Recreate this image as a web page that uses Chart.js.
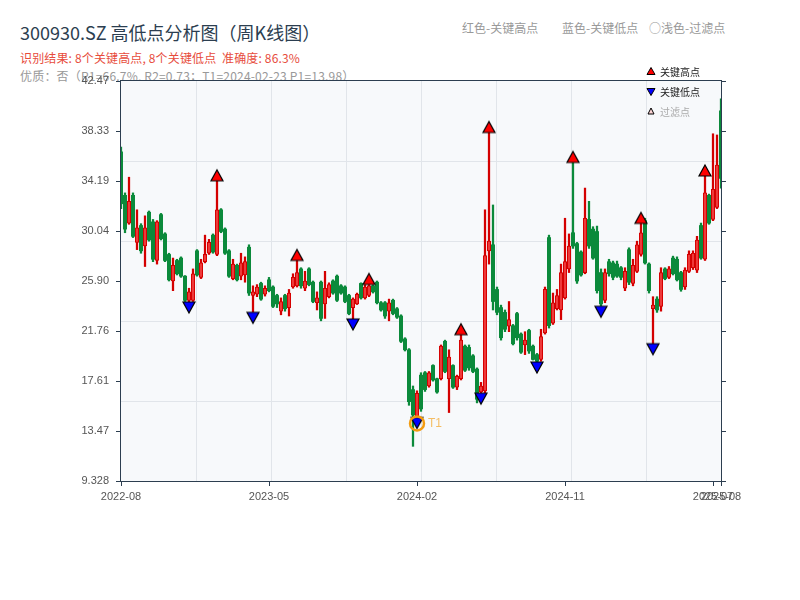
<!DOCTYPE html>
<html><head><meta charset="utf-8">
<script src="https://cdn.jsdelivr.net/npm/chart.js@4.4.1/dist/chart.umd.min.js"></script>
<style>
html,body{margin:0;padding:0;background:#fff;}
#wrap{position:relative;width:800px;height:600px;overflow:hidden;font-family:"Noto Sans CJK SC","Noto Sans",sans-serif;}
.t{position:absolute;white-space:pre;line-height:1;}
#c{position:absolute;left:0;top:0;}
</style></head><body>
<div id="wrap">
<div class="t" style="left:20px;top:23px;font-size:18px;color:#2c3e50;">300930.SZ 高低点分析图（周K线图）</div>
<div class="t" style="left:20px;top:52px;font-size:12px;color:#e74c3c;letter-spacing:0.15px;">识别结果: 8个关键高点, 8个关键低点  准确度: 86.3%</div>
<div class="t" style="left:20px;top:70px;font-size:12px;color:#999;letter-spacing:0.2px;">优质：否（R1=66.7%, R2=0.73；T1=2024-02-23 P1=13.98）</div>
<div class="t" style="left:462px;top:22px;font-size:12px;color:#999;">红色-关键高点</div>
<div class="t" style="left:562px;top:22px;font-size:12px;color:#999;">蓝色-关键低点</div>
<div class="t" style="left:649px;top:22px;font-size:12px;color:#999;">○浅色-过滤点</div>
<canvas id="c" width="800" height="600"></canvas>
</div>
<script>
// ---- categories (weekly dates) ----
const dates = [
'2022-08-26','2022-09-02','2022-09-09','2022-09-16','2022-09-23','2022-09-30','2022-10-14','2022-10-21','2022-10-28',
'2022-11-04','2022-11-11','2022-11-18','2022-11-25','2022-12-02','2022-12-09','2022-12-16','2022-12-23','2022-12-30',
'2023-01-06','2023-01-13','2023-01-20','2023-02-03','2023-02-10','2023-02-17','2023-02-24','2023-03-03','2023-03-10',
'2023-03-17','2023-03-24','2023-03-31','2023-04-07','2023-04-14','2023-04-21','2023-04-28','2023-05-05','2023-05-12',
'2023-05-19','2023-05-26','2023-06-02','2023-06-09','2023-06-16','2023-06-23','2023-06-30','2023-07-07','2023-07-14',
'2023-07-21','2023-07-28','2023-08-04','2023-08-11','2023-08-18','2023-08-25','2023-09-01','2023-09-08','2023-09-15',
'2023-09-22','2023-09-29','2023-10-13','2023-10-20','2023-10-27','2023-11-03','2023-11-10','2023-11-17','2023-11-24',
'2023-12-01','2023-12-08','2023-12-15','2023-12-22','2023-12-29','2024-01-05','2024-01-12','2024-01-19','2024-01-26',
'2024-02-02','2024-02-09','2024-02-23','2024-03-01','2024-03-08','2024-03-15','2024-03-22','2024-03-29','2024-04-05',
'2024-04-12','2024-04-19','2024-04-26','2024-05-03','2024-05-10','2024-05-17','2024-05-24','2024-05-31','2024-06-07',
'2024-06-14','2024-06-21','2024-06-28','2024-07-05','2024-07-12','2024-07-19','2024-07-26','2024-08-02','2024-08-09',
'2024-08-16','2024-08-23','2024-08-30','2024-09-06','2024-09-13','2024-09-20','2024-09-27','2024-10-04','2024-10-11',
'2024-10-18','2024-10-25','2024-11-01','2024-11-08','2024-11-15','2024-11-22','2024-11-29','2024-12-06','2024-12-13',
'2024-12-20','2024-12-27','2025-01-03','2025-01-10','2025-01-17','2025-01-24','2025-01-31','2025-02-07','2025-02-14',
'2025-02-21','2025-02-28','2025-03-07','2025-03-14','2025-03-21','2025-03-28','2025-04-04','2025-04-11','2025-04-18',
'2025-04-25','2025-05-02','2025-05-09','2025-05-16','2025-05-23','2025-05-30','2025-06-06','2025-06-13','2025-06-20',
'2025-06-27','2025-07-04','2025-07-11','2025-07-18','2025-07-25','2025-08-01','2025-08-08'];

// ---- OHLC ----
const open = [36.6,33.0,30.7,33.0,29.1,30.5,28.8,31.6,30.8,27.6,31.4,29.8,28.1,25.9,27.6,27.8,26.3,24.3,24.3,28.4,
26.2,27.5,28.2,29.7,28.1,31.8,30.2,28.4,26.1,27.2,26.3,26.4,28.7,24.7,24.8,25.7,24.8,26.0,25.4,24.7,
23.4,24.7,23.7,25.4,25.5,26.9,25.3,26.9,25.8,24.1,25.8,24.0,24.6,25.9,26.3,25.5,25.4,24.7,23.7,24.0,
25.7,24.5,24.7,25.5,25.8,24.1,24.1,23.4,24.3,23.6,23.0,21.1,20.2,16.9,14.7,18.1,18.3,17.2,18.9,17.8,
17.8,20.9,17.8,18.9,17.1,17.8,20.5,20.4,19.7,18.6,16.7,16.8,28.4,28.9,25.2,23.7,23.3,22.15,22.2,23.2,
21.5,20.6,21.8,20.5,19.8,19.4,21.6,29.5,22.4,23.6,23.5,24.5,26.9,29.9,29.0,28.3,26.6,31.0,30.2,30.0,
26.6,24.3,27.5,27.4,27.3,27.0,25.3,28.5,25.7,26.7,28.1,30.9,27.3,23.6,24.4,23.8,26.9,26.2,27.8,27.7,
26.6,25.4,26.7,27.0,26.8,30.5,27.7,33.0,31.0,32.0,40.0];
const high = [37.0,33.2,34.5,33.2,31.8,30.65,31.3,31.7,31.0,30.9,31.5,29.9,28.2,27.8,27.7,27.9,26.35,25.3,26.9,28.5,
27.7,29.7,29.35,29.8,34.2,31.9,30.3,28.5,27.7,27.3,28.2,27.9,28.9,25.5,25.6,25.8,25.5,26.2,25.5,24.8,
24.5,24.8,25.2,26.5,27.6,27.0,26.7,27.0,25.9,25.0,25.9,26.7,25.75,26.0,26.4,25.6,25.5,24.8,24.5,24.9,
25.75,25.6,25.61,25.6,25.9,24.2,24.2,24.4,24.4,23.7,23.1,21.2,20.3,17.2,16.8,18.3,18.4,18.4,18.96,17.85,
20.6,21.0,20.2,18.96,18.1,21.45,20.6,20.6,19.8,18.7,17.5,31.8,38.2,32.2,25.4,23.9,23.5,24.2,22.3,23.3,
21.6,21.7,21.9,20.6,19.9,21.9,25.4,29.7,24.9,25.2,27.3,31.1,29.8,35.72,29.1,28.4,33.6,32.5,30.4,30.45,
26.9,26.9,27.7,27.55,27.55,27.1,27.0,28.65,27.7,29.2,30.67,31.1,27.4,24.6,24.6,27.0,27.0,27.1,27.96,27.9,
26.7,27.0,28.4,28.4,29.6,30.7,34.6,33.1,38.1,38.0,41.0];
const low = [31.9,29.9,30.6,29.5,28.5,28.2,27.1,29.2,27.5,27.3,29.3,27.5,25.9,25.1,26.4,26.2,24.2,24.17,24.2,26.3,
26.1,27.4,28.1,28.2,28.0,29.9,28.1,26.2,26.0,25.9,26.0,25.8,24.7,23.31,24.6,24.3,24.65,25.0,23.7,23.7,
23.1,23.4,23.0,25.3,25.4,25.3,25.1,25.5,24.1,23.5,22.6,22.8,24.5,24.8,24.2,24.8,24.1,23.1,22.76,23.95,
24.4,24.4,24.6,24.9,24.0,23.4,22.8,22.6,23.1,22.8,20.8,20.1,15.6,12.2,14.59,15.1,16.75,17.1,17.6,16.6,
17.7,18.3,15.0,17.0,16.9,17.7,18.4,18.5,18.3,15.8,16.61,16.6,27.3,23.5,23.1,21.0,21.7,21.7,20.6,21.0,
19.9,19.8,19.9,19.35,19.19,19.25,21.5,22.0,22.3,23.5,22.7,24.4,26.6,28.6,25.7,26.3,26.5,28.6,27.7,24.9,
23.81,24.1,26.3,26.0,26.2,26.0,25.1,25.6,25.5,26.6,27.96,27.3,24.9,20.71,23.3,23.4,26.0,26.1,26.4,25.9,
25.05,25.2,26.6,26.85,26.6,27.7,27.6,30.6,30.9,31.9,33.6];
const close = [32.3,30.2,32.5,29.6,30.3,28.4,30.3,29.3,27.7,30.8,29.4,27.6,26.0,27.2,26.5,26.3,24.3,25.0,26.5,26.4,
27.4,28.1,29.1,28.3,31.8,30.0,28.2,26.3,27.3,26.0,27.4,27.5,24.9,25.0,25.4,24.4,25.3,25.1,23.8,24.0,
24.2,23.6,24.9,26.2,26.6,25.5,25.9,25.6,24.2,24.5,22.8,25.3,25.6,24.9,24.3,24.9,24.2,23.2,24.4,24.8,
24.5,25.4,25.5,25.0,24.1,23.5,23.0,24.1,23.2,22.9,20.9,20.2,15.9,14.8,16.6,15.3,16.9,18.3,17.7,16.7,
20.5,18.4,19.6,17.1,18.0,21.0,18.5,18.7,18.4,16.1,17.2,28.0,29.2,24.2,23.3,21.2,21.9,22.7,20.7,21.2,
20.0,21.0,20.1,19.4,19.25,21.3,25.2,22.2,24.1,24.7,26.6,27.5,28.8,28.8,25.9,26.4,31.1,28.8,27.8,25.1,
24.0,26.6,26.5,26.2,26.3,26.2,26.7,25.8,27.2,28.9,29.9,27.4,25.1,23.9,23.5,26.6,26.1,26.9,26.5,26.0,
25.2,26.8,28.1,28.2,29.3,27.8,33.2,30.7,33.5,35.5,34.4];

// ---- key points ----
const keyHighIdx = [24, 44, 62, 85, 92, 113, 130, 146];
const keyHighVal = [34.2, 27.6, 25.61, 21.45, 38.2, 35.72, 30.67, 34.6];
const keyLowIdx  = [17, 33, 58, 74, 90, 104, 120, 133];
const keyLowVal  = [24.17, 23.31, 22.76, 14.59, 16.61, 19.19, 23.81, 20.71];
const t1Idx = 74, t1Val = 14.1;

// ---- axis ticks ----
const xTickIdx = [0, 37, 74, 111, 148, 150];
const xTickLabels = ['2022-08','2023-05','2024-02','2024-11','2025-07','2025-08'];
const yMin = 9.328, yMax = 42.472;
const yTickVals = [9.328, 13.471, 17.614, 21.757, 25.900, 30.043, 34.186, 38.329, 42.472];
const yTickLabels = ['9.328','13.47','17.61','21.76','25.90','30.04','34.19','38.33','42.47'];
const gridXDivs = 8, gridYDivs = 5;

const RED = '#d40000', RED_FILL = '#ee3a3a', GREEN = '#0b8a3b', DARK = '#2c3e50', GRID = '#e1e5ea';
const FONT = "'Liberation Sans', Arial, sans-serif";

function tri(fill, up, w, h) {
  const c = document.createElement('canvas');
  c.width = w + 4; c.height = 2 * h + 4;
  const g = c.getContext('2d');
  const cx = c.width / 2, cy = c.height / 2;
  g.fillStyle = fill; g.strokeStyle = '#000'; g.lineWidth = 1.2;
  g.beginPath();
  if (up) { g.moveTo(cx, cy - h); g.lineTo(cx + w / 2, cy); g.lineTo(cx - w / 2, cy); }
  else { g.moveTo(cx - w / 2, cy); g.lineTo(cx + w / 2, cy); g.lineTo(cx, cy + h); }
  g.closePath(); g.fill(); g.stroke();
  return c;
}
const upTri = tri('#ff0000', true, 12, 11);
const dnTri = tri('#0000ff', false, 12, 11);

const isUp = i => close[i] >= open[i];
const wickData = dates.map((d, i) => ({x: i, y: [low[i], high[i]]}));
const bodyData = dates.map((d, i) => ({x: i, y: [open[i], close[i]]}));

const bgPlugin = {
  id: 'bg',
  beforeDatasetsDraw(chart) {
    const a = chart.chartArea, ctx = chart.ctx;
    ctx.save(); ctx.fillStyle = '#f7f9fb';
    ctx.fillRect(a.left, a.top, a.right - a.left, a.bottom - a.top);
    ctx.strokeStyle = GRID; ctx.lineWidth = 1;
    ctx.beginPath();
    for (let k = 1; k < gridXDivs; k++) {
      const x = Math.round(a.left + (a.right - a.left) * k / gridXDivs) + 0.5;
      ctx.moveTo(x, a.top); ctx.lineTo(x, a.bottom);
    }
    for (let k = 1; k < gridYDivs; k++) {
      const y = Math.round(a.top + (a.bottom - a.top) * k / gridYDivs) + 0.5;
      ctx.moveTo(a.left, y); ctx.lineTo(a.right, y);
    }
    ctx.stroke();
    ctx.restore();
  }
};
const overlayPlugin = {
  id: 'overlay',
  afterDraw(chart) {
    const ctx = chart.ctx, xs = chart.scales.x, ys = chart.scales.y;
    ctx.save();
    ctx.fillStyle = 'rgba(243,156,18,0.65)';
    ctx.font = "12px " + FONT;
    ctx.textBaseline = 'middle';
    ctx.fillText('T1', xs.getPixelForValue(t1Idx) + 11, ys.getPixelForValue(t1Val));
    const lx = 651;
    function t(x, y, w, h, fill, up) {
      ctx.beginPath();
      if (up) { ctx.moveTo(x, y - h / 2); ctx.lineTo(x + w / 2, y + h / 2); ctx.lineTo(x - w / 2, y + h / 2); }
      else { ctx.moveTo(x - w / 2, y - h / 2); ctx.lineTo(x + w / 2, y - h / 2); ctx.lineTo(x, y + h / 2); }
      ctx.closePath(); ctx.fillStyle = fill; ctx.fill();
      ctx.strokeStyle = '#000'; ctx.lineWidth = 1; ctx.stroke();
    }
    t(lx, 71, 8, 7, '#ff0000', true);
    t(lx, 92, 8, 7, '#0000ff', false);
    t(lx, 111, 6, 6, '#ffd6d6', true);
    ctx.font = "10px 'Noto Sans CJK SC', sans-serif";
    ctx.fillStyle = '#222';
    ctx.fillText('关键高点', 660, 72);
    ctx.fillText('关键低点', 660, 92);
    ctx.fillStyle = '#aaa';
    ctx.fillText('过滤点', 660, 112);
    ctx.restore();
  }
};

new Chart(document.getElementById('c'), {
  type: 'bar',
  data: {
    datasets: [
      {type: 'scatter', data: keyHighIdx.map((v, k) => ({x: v, y: keyHighVal[k]})), pointStyle: upTri, order: 0, clip: false},
      {type: 'scatter', data: keyLowIdx.map((v, k) => ({x: v, y: keyLowVal[k]})), pointStyle: dnTri, order: 0, clip: false},
      {type: 'scatter', data: [{x: t1Idx, y: t1Val}], pointStyle: 'circle', radius: 7, borderColor: '#f39c12', borderWidth: 2.5, backgroundColor: 'rgba(0,0,0,0)', order: -1},
      {data: bodyData, grouped: false, barThickness: 3.4, minBarLength: 1, borderSkipped: false,
       backgroundColor: c => isUp(c.dataIndex) ? RED_FILL : GREEN,
       borderColor: c => isUp(c.dataIndex) ? RED : GREEN,
       borderWidth: c => isUp(c.dataIndex) ? 1 : 0, order: 1},
      {data: wickData, grouped: false, barThickness: 1.6, borderWidth: 0,
       backgroundColor: c => isUp(c.dataIndex) ? RED : GREEN, order: 2}
    ]
  },
  options: {
    responsive: false, animation: false,
    layout: {padding: {top: 81, left: 0, right: 0, bottom: 0}},
    plugins: {legend: {display: false}, tooltip: {enabled: false}},
    scales: {
      x: {type: 'linear', position: 'bottom', min: 0, max: 150, offset: false,
        afterBuildTicks: s => { s.ticks = xTickIdx.map(v => ({value: v})); },
        afterFit: s => { s.height = 119; },
        ticks: {autoSkip: false, maxRotation: 0, color: '#555', padding: 4, font: {size: 11, family: FONT},
          callback: v => xTickLabels[xTickIdx.indexOf(v)]},
        grid: {display: true, offset: false, drawOnChartArea: false, drawTicks: true, tickLength: 5, color: DARK},
        border: {display: true, color: DARK, width: 2}},
      xt: {type: 'linear', position: 'top', min: 0, max: 1,
        ticks: {display: false}, grid: {display: false, drawTicks: false}, border: {display: true, color: DARK, width: 1.5},
        afterFit: s => { s.height = 0; }},
      y: {type: 'linear', position: 'left', min: yMin, max: yMax,
        afterBuildTicks: s => { s.ticks = yTickVals.map(v => ({value: v})); },
        afterFit: s => { s.width = 121; },
        ticks: {color: '#555', padding: 7, font: {size: 11, family: FONT},
          callback: v => yTickLabels[yTickVals.indexOf(v)]},
        grid: {display: true, drawOnChartArea: false, drawTicks: true, tickLength: 5, color: DARK},
        border: {display: true, color: DARK, width: 2}},
      yr: {type: 'linear', position: 'right', min: yMin, max: yMax,
        afterBuildTicks: s => { s.ticks = yTickVals.map(v => ({value: v})); },
        afterFit: s => { s.width = 79; },
        ticks: {display: false},
        grid: {display: true, drawOnChartArea: false, drawTicks: true, tickLength: 5, color: DARK},
        border: {display: true, color: DARK, width: 2}}
    }
  },
  plugins: [bgPlugin, overlayPlugin]
});
</script>
</body></html>
